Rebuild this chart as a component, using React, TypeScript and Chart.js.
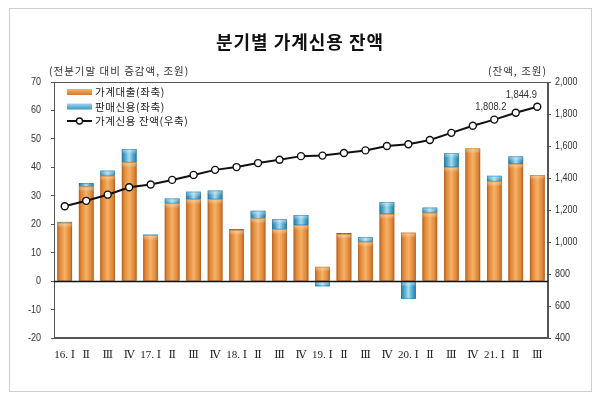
import React, { useEffect, useRef } from 'react';
import { Chart, registerables } from 'chart.js';

Chart.register(...registerables);

// ---------------- data ----------------
const categories = [
  '16. Ⅰ', 'Ⅱ', 'Ⅲ', 'Ⅳ',
  '17. Ⅰ', 'Ⅱ', 'Ⅲ', 'Ⅳ',
  '18. Ⅰ', 'Ⅱ', 'Ⅲ', 'Ⅳ',
  '19. Ⅰ', 'Ⅱ', 'Ⅲ', 'Ⅳ',
  '20. Ⅰ', 'Ⅱ', 'Ⅲ', 'Ⅳ',
  '21. Ⅰ', 'Ⅱ', 'Ⅲ',
];
// 가계대출 (좌축, 전분기말 대비 증감액, 조원)
const householdLoans = [
  20.5, 33.2, 37.0, 41.7,
  16.1, 27.3, 28.8, 28.8,
  17.9, 22.0, 18.2, 19.7,
  5.0, 16.5, 13.8, 23.6,
  17.0, 24.0, 40.1, 46.6,
  35.0, 41.2, 37.3,
];
// 판매신용 (좌축)
const salesCredit = [
  0.3, 1.2, 1.8, 4.7,
  0.2, 1.7, 2.6, 3.0,
  0.3, 2.7, 3.5, 3.5,
  -1.8, 0.4, 1.6, 4.2,
  -6.2, 1.8, 4.9, -0.2,
  2.0, 2.6, -0.3,
];
// 가계신용 잔액 (우축, 조원)
const creditBalance = [
  1223.7, 1257.3, 1295.8, 1342.5,
  1359.1, 1388.1, 1419.3, 1450.8,
  1468.2, 1493.2, 1514.4, 1536.7,
  1540.0, 1556.7, 1572.5, 1600.1,
  1611.3, 1637.3, 1682.1, 1726.1,
  1765.0, 1808.2, 1844.9,
];
const labeledPoints = [21, 22]; // indexes of balance values shown as labels

const leftMin = -20;
const leftMax = 70;
const leftStep = 10;
const rightMin = 400;
const rightMax = 2000;
const rightStep = 200;

const titleText = '분기별 가계신용 잔액';
const leftAxisTitle = '(전분기말 대비 증감액, 조원)';
const rightAxisTitle = '(잔액, 조원)';
const legendLabels = ['가계대출(좌축)', '판매신용(좌축)', '가계신용 잔액(우축)'];

// ---------------- styling ----------------
const KR = '"Noto Sans CJK KR", "Noto Sans", sans-serif';
const NUM = '"Liberation Sans", Arial, sans-serif';
const SERIF = '"Liberation Serif", "DejaVu Serif", serif';

const fmt = (v: number) =>
  v.toLocaleString('en-US', { minimumFractionDigits: 1, maximumFractionDigits: 1 });

function orangeGrad(ctx: CanvasRenderingContext2D, l: number, w: number) {
  const g = ctx.createLinearGradient(l, 0, l + w, 0);
  g.addColorStop(0, '#C06A25');
  g.addColorStop(0.18, '#E2893A');
  g.addColorStop(0.5, '#F5B268');
  g.addColorStop(0.82, '#E2893A');
  g.addColorStop(1, '#C06A25');
  return g;
}
function blueGrad(ctx: CanvasRenderingContext2D, l: number, w: number) {
  const g = ctx.createLinearGradient(l, 0, l + w, 0);
  g.addColorStop(0, '#2A7DA8');
  g.addColorStop(0.2, '#46A2CC');
  g.addColorStop(0.5, '#A6DCF0');
  g.addColorStop(0.8, '#46A2CC');
  g.addColorStop(1, '#2A7DA8');
  return g;
}

function narrowText(ctx: CanvasRenderingContext2D, text: string, x: number, y: number, sx: number) {
  ctx.save();
  ctx.translate(x, y);
  ctx.scale(sx, 1);
  ctx.fillText(text, 0, 0);
  ctx.restore();
}

const decorPlugin = {
  id: 'decor',
  beforeDraw(chart: any) {
    const ctx = chart.ctx as CanvasRenderingContext2D;
    ctx.save();
    ctx.fillStyle = '#ffffff';
    ctx.fillRect(0, 0, chart.width, chart.height);
    ctx.strokeStyle = '#cfcfcf';
    ctx.lineWidth = 1;
    ctx.strokeRect(9.5, 8.5, 582, 383);
    ctx.restore();
  },
  afterDatasetDraw(chart: any, args: any) {
    const meta = args.meta;
    if (meta.type !== 'bar') return;
    const ctx = chart.ctx as CanvasRenderingContext2D;
    const isLoan = args.index === 0;
    ctx.save();
    meta.data.forEach((el: any) => {
      const p = el.getProps(['x', 'y', 'base', 'width'], true);
      const l = p.x - p.width / 2;
      const top = Math.min(p.y, p.base);
      const h = Math.abs(p.base - p.y);
      if (h < 0.5) return;
      ctx.fillStyle = isLoan ? orangeGrad(ctx, l, p.width) : blueGrad(ctx, l, p.width);
      ctx.fillRect(l, top, p.width, h);
      if (h > 4) {
        const hg = ctx.createLinearGradient(0, top, 0, top + 5);
        hg.addColorStop(0, isLoan ? 'rgba(255,230,180,0.55)' : 'rgba(220,245,255,0.55)');
        hg.addColorStop(1, 'rgba(255,255,255,0)');
        ctx.fillStyle = hg;
        ctx.fillRect(l, top, p.width, Math.min(5, h));
      }
      ctx.strokeStyle = isLoan ? 'rgba(160,85,30,0.6)' : 'rgba(30,100,140,0.6)';
      ctx.lineWidth = 0.6;
      ctx.strokeRect(l + 0.3, top + 0.3, p.width - 0.6, h - 0.6);
    });
    ctx.restore();
  },
  afterDraw(chart: any) {
    const ctx = chart.ctx as CanvasRenderingContext2D;
    const area = chart.chartArea;
    const yScale = chart.scales.y;
    const y1Scale = chart.scales.y1;
    ctx.save();

    // plot frame
    ctx.strokeStyle = '#555';
    ctx.lineWidth = 1;
    ctx.strokeRect(Math.round(area.left) + 0.5, Math.round(area.top) + 0.5,
      Math.round(area.right - area.left) - 1, Math.round(area.bottom - area.top) - 1);

    // zero line
    const y0 = Math.round(yScale.getPixelForValue(0)) + 0.5;
    ctx.strokeStyle = '#111';
    ctx.lineWidth = 1.3;
    ctx.beginPath();
    ctx.moveTo(area.left, y0);
    ctx.lineTo(area.right, y0);
    ctx.stroke();

    // y tick labels (narrow)
    ctx.fillStyle = '#333';
    ctx.font = `11px ${NUM}`;
    ctx.textBaseline = 'middle';
    ctx.textAlign = 'right';
    yScale.ticks.forEach((t: any) => {
      narrowText(ctx, String(t.value), area.left - 13, yScale.getPixelForValue(t.value), 0.82);
    });
    ctx.textAlign = 'left';
    y1Scale.ticks.forEach((t: any) => {
      narrowText(ctx, Number(t.value).toLocaleString('en-US'), area.right + 7,
        y1Scale.getPixelForValue(t.value), 0.82);
    });

    // title
    (ctx as any).letterSpacing = '1px';
    ctx.fillStyle = '#111';
    ctx.font = `bold 18px ${KR}`;
    ctx.textAlign = 'center';
    ctx.textBaseline = 'middle';
    ctx.fillText(titleText, 300, 42);

    // axis titles
    (ctx as any).letterSpacing = '1px';
    ctx.fillStyle = '#333';
    ctx.font = `10.5px ${KR}`;
    ctx.textAlign = 'left';
    ctx.fillText(leftAxisTitle, 49, 71);
    ctx.textAlign = 'right';
    ctx.fillText(rightAxisTitle, 547, 71);

    // legend
    const lx = 67;
    const rows = [92, 106.5, 121];
    ctx.textAlign = 'left';
    const og = ctx.createLinearGradient(0, rows[0] - 3, 0, rows[0] + 3);
    og.addColorStop(0, '#F6B36A');
    og.addColorStop(1, '#D27A30');
    ctx.fillStyle = og;
    ctx.fillRect(lx, rows[0] - 3, 25, 6);
    const bg = ctx.createLinearGradient(0, rows[1] - 3, 0, rows[1] + 3);
    bg.addColorStop(0, '#9ED6EE');
    bg.addColorStop(1, '#3C96C2');
    ctx.fillStyle = bg;
    ctx.fillRect(lx, rows[1] - 3, 25, 6);
    ctx.strokeStyle = '#111';
    ctx.lineWidth = 2;
    ctx.beginPath();
    ctx.moveTo(lx, rows[2]);
    ctx.lineTo(lx + 25, rows[2]);
    ctx.stroke();
    ctx.beginPath();
    ctx.arc(lx + 12.5, rows[2], 3, 0, Math.PI * 2);
    ctx.fillStyle = '#fff';
    ctx.fill();
    ctx.lineWidth = 1.3;
    ctx.stroke();
    ctx.fillStyle = '#222';
    ctx.font = `10.5px ${KR}`;
    (ctx as any).letterSpacing = '0.6px';
    legendLabels.forEach((t, i) => ctx.fillText(t, 95, rows[i] + 0.5));
    (ctx as any).letterSpacing = '0px';

    // value labels for last points
    const lineMeta = chart.getDatasetMeta(2);
    ctx.font = `11px ${NUM}`;
    ctx.fillStyle = '#333';
    ctx.textAlign = 'center';
    const offsets: Record<number, [number, number]> = { 21: [-25, -6], 22: [-16, -12] };
    labeledPoints.forEach((i) => {
      const pt = lineMeta.data[i];
      if (!pt) return;
      const [dx, dy] = offsets[i] || [0, -10];
      narrowText(ctx, fmt(creditBalance[i]), pt.x + dx, pt.y + dy, 0.85);
    });

    ctx.restore();
  },
};

export default function App() {
  const ref = useRef<HTMLCanvasElement | null>(null);

  useEffect(() => {
    if (!ref.current) return;
    const chart = new Chart(ref.current, {
      type: 'bar',
      data: {
        labels: categories,
        datasets: [
          {
            type: 'bar',
            label: legendLabels[0],
            data: householdLoans,
            backgroundColor: '#E8913F',
            yAxisID: 'y',
            order: 1,
            categoryPercentage: 0.68,
            barPercentage: 1.0,
          },
          {
            type: 'bar',
            label: legendLabels[1],
            data: salesCredit,
            backgroundColor: '#4BA5CF',
            yAxisID: 'y',
            order: 1,
            categoryPercentage: 0.68,
            barPercentage: 1.0,
          },
          {
            type: 'line',
            label: legendLabels[2],
            data: creditBalance,
            yAxisID: 'y1',
            order: 0,
            borderColor: '#111',
            borderWidth: 2,
            tension: 0,
            pointRadius: 3.5,
            pointBackgroundColor: '#fff',
            pointBorderColor: '#111',
            pointBorderWidth: 1.4,
          } as any,
        ],
      },
      options: {
        responsive: false,
        animation: false,
        devicePixelRatio: 1,
        layout: { padding: { top: 82, left: 0, right: 0, bottom: 0 } },
        plugins: {
          legend: { display: false },
          tooltip: { enabled: false },
          title: { display: false },
        },
        scales: {
          x: {
            stacked: true,
            grid: { display: false, drawTicks: false },
            border: { display: true, color: '#555' },
            ticks: {
              padding: 11,
              color: '#222',
              font: { family: SERIF, size: 11 },
              maxRotation: 0,
              autoSkip: false,
            },
            afterFit: (s: any) => { s.height = 58; },
          },
          y: {
            type: 'linear',
            position: 'left',
            stacked: true,
            min: leftMin,
            max: leftMax,
            grid: {
              display: true,
              drawOnChartArea: false,
              drawTicks: true,
              tickLength: 3,
              color: '#555',
            },
            border: { display: true, color: '#555' },
            ticks: {
              stepSize: leftStep,
              padding: 10,
              color: 'rgba(0,0,0,0)',
              font: { family: NUM, size: 11 },
            },
            afterFit: (s: any) => { s.width = 54; },
          },
          y1: {
            type: 'linear',
            position: 'right',
            stacked: false,
            min: rightMin,
            max: rightMax,
            grid: {
              display: true,
              drawOnChartArea: false,
              drawTicks: true,
              tickLength: 3,
              color: '#555',
            },
            border: { display: true, color: '#555' },
            ticks: {
              stepSize: rightStep,
              padding: 5,
              color: 'rgba(0,0,0,0)',
              font: { family: NUM, size: 11 },
              callback: (v: any) => Number(v).toLocaleString('en-US'),
            },
            afterFit: (s: any) => { s.width = 52; },
          },
        },
      },
      plugins: [decorPlugin],
    } as any);
    return () => chart.destroy();
  }, []);

  return (
    <div style={{ position: 'fixed', left: 0, top: 0, width: 600, height: 396, background: '#fff' }}>
      <canvas ref={ref} width={600} height={396} style={{ width: 600, height: 396, display: 'block' }} />
    </div>
  );
}
